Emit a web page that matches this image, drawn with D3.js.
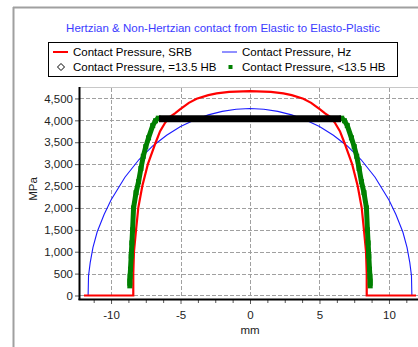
<!DOCTYPE html>
<html><head><meta charset="utf-8">
<script src="https://cdn.jsdelivr.net/npm/d3@7"></script>
<style>
html,body{margin:0;padding:0;background:#fff;}
svg text{font-family:Arial,"Liberation Sans",sans-serif;}
</style></head>
<body>
<svg id="c" width="418" height="347"></svg>
<script>
// ---- data ----
const title = "Hertzian & Non-Hertzian contact from Elastic to Elasto-Plastic";
const seriesNames = ["Contact Pressure, SRB","Contact Pressure, Hz","Contact Pressure, =13.5 HB","Contact Pressure, <13.5 HB"];
const xTicks = [-10,-5,0,5,10];
const yTicks = [0,500,1000,1500,2000,2500,3000,3500,4000,4500];

const srbX = [-11.95,-8.4,-8.4,-8.35,-8.2,-8.04,-7.75,-7.35,-6.78,-6.47,-6.1,-5.76,-5.4,-5.04,-4.4,-3.84,-3.0,-2.4,-1.5,0,
              1.5,2.4,3.0,3.84,4.4,5.04,5.4,5.76,6.1,6.47,6.78,7.35,7.75,8.04,8.2,8.35,8.4,8.4,11.95];
const srbP = [0,0,500,1000,1500,2000,2500,3000,3500,3753,3950,4080,4160,4250,4400,4493,4575,4614,4650,4667,
              4650,4614,4575,4493,4400,4250,4160,4080,3950,3753,3500,3000,2500,2000,1500,1000,500,0,0];

const hzX = [-11.65,-11.62,-11.5,-11.3,-11.0,-10.5,-10.0,-9.0,-8.0,-7.0,-6.0,-5.0,-4.0,-3.0,-2.0,-1.0,0,
             1.0,2.0,3.0,4.0,5.0,6.0,7.0,8.0,9.0,10.0,10.5,11.0,11.3,11.5,11.62,11.65];
const hzP = [0,450,750,1100,1450,1850,2180,2700,3100,3415,3660,3860,4010,4125,4205,4255,4270,
             4255,4205,4125,4010,3860,3660,3415,3100,2700,2180,1850,1450,1100,750,450,0];

const eqX = [-6.55,6.55];
const eqP = [4035,4035];

const ltX = [-8.65,-8.65,-8.63,-8.6,-8.55,-8.5,-8.45,-8.38,-8.2,-8.02,-7.85,-7.68,-7.5,-7.3,-7.0,-6.8,-6.6];
const ltP = [220,330,440,600,900,1200,1500,2000,2350,2600,2900,3180,3400,3600,3880,3990,4050];
const ltXR = [6.6,6.8,7.0,7.3,7.5,7.68,7.85,8.02,8.2,8.38,8.45,8.5,8.55,8.6,8.63,8.65,8.65];
const ltPR = [4050,3990,3880,3600,3400,3180,2900,2600,2350,2000,1500,1200,900,600,440,330,220];

// ---- chart ----
const svg = d3.select("#c");
const x = d3.scaleLinear().domain([-12.27,12.27]).range([79.5,420.5]);
const y = d3.scaleLinear().domain([-80,4750]).range([299,87.5]);

// outer frame
svg.append("line").attr("x1",13.5).attr("x2",13.5).attr("y1",7).attr("y2",347).attr("stroke","#a0a0a0").attr("stroke-width",2);
svg.append("line").attr("x1",13).attr("x2",418).attr("y1",7.5).attr("y2",7.5).attr("stroke","#a0a0a0").attr("stroke-width",2);

// title
svg.append("text").attr("x",223).attr("y",32).attr("text-anchor","middle")
  .attr("font-size","11.5px").attr("fill","#3b3bff").text(title);

// legend
const lg = svg.append("g");
lg.append("rect").attr("x",48.5).attr("y",42.5).attr("width",349).attr("height",34).attr("fill","#fff").attr("stroke","#000");
const lfs = "11.5px";
lg.append("line").attr("x1",53).attr("x2",68).attr("y1",52).attr("y2",52).attr("stroke","#ff0000").attr("stroke-width",2);
lg.append("text").attr("x",73).attr("y",56).attr("font-size",lfs).text(seriesNames[0]);
lg.append("line").attr("x1",222).attr("x2",237).attr("y1",52).attr("y2",52).attr("stroke","#2020ff").attr("stroke-width",1);
lg.append("text").attr("x",242).attr("y",56).attr("font-size",lfs).text(seriesNames[1]);
lg.append("path").attr("d","M61,63.5 L64.5,67 L61,70.5 L57.5,67 Z").attr("fill","#fff").attr("stroke","#000");
lg.append("text").attr("x",73).attr("y",71).attr("font-size",lfs).text(seriesNames[2]);
lg.append("rect").attr("x",228.5).attr("y",65).attr("width",4).attr("height",4).attr("fill","#008000");
lg.append("text").attr("x",242).attr("y",71).attr("font-size",lfs).text(seriesNames[3]);

// plot top border
svg.append("line").attr("x1",79).attr("x2",418).attr("y1",87.5).attr("y2",87.5).attr("stroke","#c8c8c8");

// gridlines
const grid = svg.append("g").attr("stroke","#a0a0a0").attr("stroke-dasharray","4,2").attr("stroke-width",1);
yTicks.forEach(v=>{
  grid.append("line").attr("x1",80).attr("x2",418).attr("y1",Math.round(y(v))+0.5).attr("y2",Math.round(y(v))+0.5);
});
xTicks.forEach(v=>{
  grid.append("line").attr("x1",Math.round(x(v))+0.5).attr("x2",Math.round(x(v))+0.5).attr("y1",88).attr("y2",298);
});

// axes
const yAxis = d3.axisLeft(y).tickValues(yTicks).tickSize(4).tickPadding(2).tickFormat(d3.format(","));
const gy = svg.append("g").attr("transform","translate(79,0)").call(yAxis);
gy.select(".domain").remove();
gy.selectAll("text").attr("font-size","11.5px").attr("fill","#222").attr("font-family","Arial,'Liberation Sans',sans-serif");
gy.selectAll("line").attr("stroke","#555");

const minor = d3.range(-11.25,12.3,1.25).filter(v=>Math.abs(v/5-Math.round(v/5))>1e-6);
const gxm = svg.append("g").attr("transform","translate(0,299)")
  .call(d3.axisBottom(x).tickValues(minor).tickSize(4).tickFormat(""));
gxm.select(".domain").remove();
gxm.selectAll("line").attr("stroke","#555");
const gx = svg.append("g").attr("transform","translate(0,299)")
  .call(d3.axisBottom(x).tickValues(xTicks).tickSize(5).tickPadding(7).tickFormat(d=>String(d)));
gx.select(".domain").remove();
gx.selectAll("line").attr("stroke","#555");
gx.selectAll("text").attr("font-size","11.5px").attr("fill","#222").attr("font-family","Arial,'Liberation Sans',sans-serif");

// axis lines
svg.append("line").attr("x1",79.5).attr("x2",79.5).attr("y1",87).attr("y2",300).attr("stroke","#000").attr("stroke-width",2);
svg.append("line").attr("x1",78.5).attr("x2",418).attr("y1",299.5).attr("y2",299.5).attr("stroke","#000").attr("stroke-width",2);

// axis titles
svg.append("text").attr("x",250).attr("y",334).attr("text-anchor","middle").attr("font-size","11.5px").attr("fill","#222").text("mm");
svg.append("text").attr("transform","translate(37,189) rotate(-90)").attr("text-anchor","middle").attr("font-size","11.5px").attr("fill","#222").text("MPa");

// series
const clip = svg.append("clipPath").attr("id","pc").append("rect").attr("x",80).attr("y",87).attr("width",340).attr("height",212);
const plot = svg.append("g").attr("clip-path","url(#pc)");
const line = d3.line().x(d=>x(d[0])).y(d=>y(d[1]));

plot.append("path").datum(d3.zip(hzX,hzP)).attr("d",line).attr("fill","none").attr("stroke","#1a1aff").attr("stroke-width",1.1);
plot.append("path").datum(d3.zip(srbX,srbP)).attr("d",line).attr("fill","none").attr("stroke","#ff0000").attr("stroke-width",2.2);
[[ltX,ltP],[ltXR,ltPR]].forEach(([xs,ps])=>{
  plot.append("path").datum(d3.zip(xs,ps)).attr("d",line).attr("fill","none").attr("stroke","#008000").attr("stroke-width",5);
  plot.selectAll(null).data(d3.zip(xs,ps)).enter().append("rect")
    .attr("x",d=>x(d[0])-2.5).attr("y",d=>y(d[1])-2.5).attr("width",5).attr("height",5).attr("fill","#008000");
});
plot.append("path").datum(d3.zip(eqX,eqP)).attr("d",line).attr("fill","none").attr("stroke","#000").attr("stroke-width",7);
</script>
</body></html>
